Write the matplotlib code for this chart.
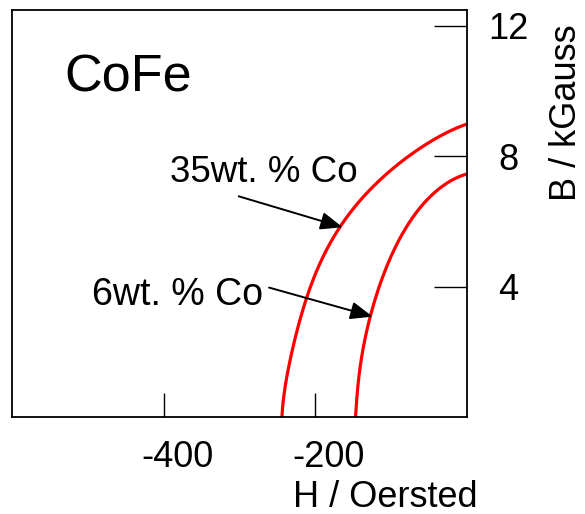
import matplotlib
matplotlib.use("Agg")
import matplotlib.pyplot as plt
import matplotlib.transforms as mtransforms
import numpy as np

plt.rcParams['font.family'] = ['Liberation Sans', 'DejaVu Sans']

# Data (H in Oersted, B in kGauss)
h_35 = [-244, -233, -224, -213, -200, -184.5, -169, -151, -131.6, -109.6, -87.6, -65.5,
        -43.5, -21.4, -1]
b_35 = [0.0, 1.75, 2.68, 3.6, 4.32, 5.14, 5.81, 6.37, 6.88, 7.37, 7.81, 8.19,
        8.52, 8.78, 8.98]
h_6 = [-147, -144, -139.5, -133.8, -127.2, -118.3, -107.3, -94, -81, -65.4, -47.7, -25.6, -1]
b_6 = [0.0, 0.93, 1.75, 2.47, 3.14, 3.81, 4.52, 5.24, 5.8, 6.3, 6.78, 7.19, 7.45]

x_ticks = [-400, -200]
x_tick_labels = ['-400', '-200']
y_ticks = [4, 8, 12]
y_tick_labels = ['4', '8', '12']

XR, YR = 600.0 / 455.0, 12.5 / 407.5  # data units per pixel


def smooth(x, y, n=400, deg=6):
    """Smooth the hand-read points with a least-squares curve in chord length."""
    px = np.asarray(x, float) / XR
    py = np.asarray(y, float) / YR
    d = np.hypot(np.diff(px), np.diff(py))
    t = np.concatenate([[0], np.cumsum(d)])
    t = t / t[-1]
    w = np.ones_like(t)
    w[0] = w[-1] = 20.0  # keep the end points in place
    cx = np.polyfit(t, px, deg, w=w)
    cy = np.polyfit(t, py, deg, w=w)
    tt = np.linspace(0, 1, n)
    return np.polyval(cx, tt) * XR, np.polyval(cy, tt) * YR


fig = plt.figure(figsize=(5.85, 5.14), dpi=100)
ax = fig.add_axes([12 / 585, 1 - 417 / 514, 455 / 585, 407.5 / 514])

for hx, by in ((h_35, b_35), (h_6, b_6)):
    sx, sy = smooth(hx, by)
    ax.plot(sx, sy, color='#ff0000', lw=2.3, solid_capstyle='butt')

ax.set_xlim(-600, 0)
ax.set_ylim(0, 12.5)

for s in ax.spines.values():
    s.set_linewidth(1.3)

ax.set_xticks(x_ticks)
ax.set_xticklabels(x_tick_labels)
ax.yaxis.tick_right()
ax.set_yticks(y_ticks)
ax.set_yticklabels(y_tick_labels)

ax.tick_params(axis='x', direction='in', length=17.3, width=1.0, labelsize=26, pad=16.5)
ax.tick_params(axis='y', direction='in', length=23.8, width=1.0, labelsize=26, pad=29.5,
               left=False, right=True, labelleft=False, labelright=True)

offset = mtransforms.ScaledTranslation(13.5 / 100, 0, fig.dpi_scale_trans)
for lab in ax.get_xticklabels():
    lab.set_transform(lab.get_transform() + offset)
for lab in ax.get_yticklabels():
    lab.set_horizontalalignment('center')

ax.set_xlabel('H / Oersted', fontsize=26, va='baseline')
ax.xaxis.set_label_coords((385 - 12) / 455, (417 - 507) / 407.5)

ax.yaxis.set_label_position('right')
ax.set_ylabel('B / kGauss', fontsize=26)
ax.yaxis.label.set_verticalalignment('center')
ax.yaxis.label.set_rotation_mode('anchor')
ax.yaxis.set_label_coords((566 - 12) / 455, (417 - 113) / 407.5)

ax.text(-531, 9.97, 'CoFe', fontsize=37.5, va='baseline', ha='left')
ax.text(-392, 7.2, '35wt. % Co', fontsize=26.5, va='baseline', ha='left')
ax.text(-494, 3.45, '6wt. % Co', fontsize=27, va='baseline', ha='left')

arrow_kw = dict(arrowstyle='-|>,head_length=0.75,head_width=0.3', lw=1.4, color='black',
                shrinkA=0, shrinkB=0, mutation_scale=18)
ax.annotate('', xy=(-164, 5.82), xytext=(-301, 6.77), arrowprops=arrow_kw)
ax.annotate('', xy=(-124.5, 3.08), xytext=(-261, 3.97), arrowprops=arrow_kw)

fig.savefig('out.png', dpi=100)
